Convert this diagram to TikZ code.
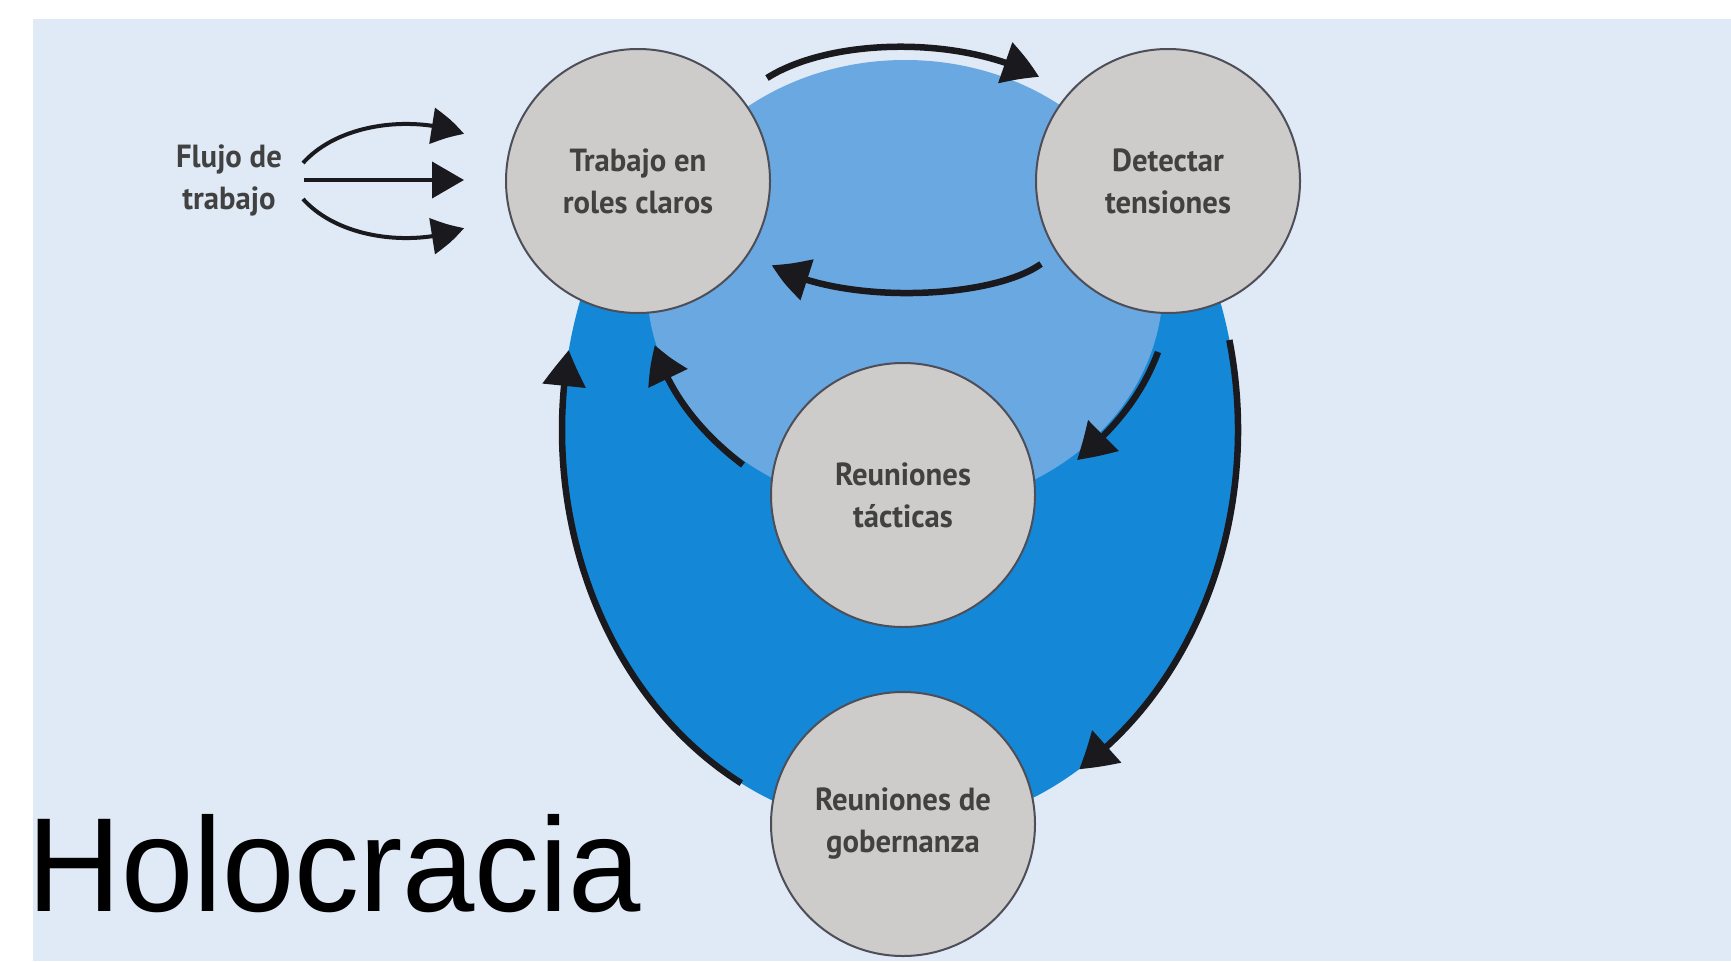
\documentclass[tikz,border=0pt]{standalone}
\usepackage{fontspec}
\newfontfamily\lblfont{PT Sans Bold}[FakeStretch=0.96]
\newfontfamily\holofont{Liberation Sans}[FakeStretch=0.97]
\usetikzlibrary{arrows.meta,bending}
\definecolor{bgc}{HTML}{E0EAF6}
\definecolor{lightb}{HTML}{69A8E0}
\definecolor{darkb}{HTML}{1488D6}
\definecolor{circfill}{HTML}{CDCCCA}
\definecolor{circline}{HTML}{4E4E58}
\definecolor{txtc}{HTML}{414141}
\definecolor{arrc}{HTML}{1A1A1E}
\tikzset{
  stage/.style={circle, minimum size=264pt, inner sep=0pt, fill=circfill, draw=circline, line width=2pt,
    align=center, text=txtc, font=\lblfont\fontsize{32}{42}\selectfont},
  bigarrow/.style={draw=arrc, line width=6.5pt, -{Triangle[length=36pt,width=42pt,bend]}},
  flowarrow/.style={draw=arrc, line width=4pt, -{Triangle[length=32pt,width=36pt,bend]}},
}
\begin{document}
\begin{tikzpicture}[x=1pt,y=-1pt]
\useasboundingbox (0,0) rectangle (1731,961);
\fill[white] (0,0) rectangle (1731,961);
\fill[bgc] (33,19) rectangle (1731,961);
% dark blue outer shape
\begin{scope}
\clip (0,200) rectangle (1731,961);
\fill[darkb] (900,430) ellipse [x radius=338, y radius=400];
\end{scope}
% light blue inner shape
\fill[lightb] (905,285) ellipse [x radius=258, y radius=225];
% stages
\node[stage] (trabajo) at (638,181) {Trabajo en\\roles claros};
\node[stage] (detectar) at (1168,181) {Detectar\\tensiones};
\node[stage] (tacticas) at (903,495) {Reuniones\\tácticas};
\node[stage] (gober) at (903,824) {Reuniones de\\gobernanza};
% flow label
\node[align=center, text=txtc, font=\lblfont\fontsize{32}{42}\selectfont] (flujo) at (229,180) {Flujo de\\trabajo};
\coordinate (f1s) at (303,163);
\coordinate (f1e) at (464,134);
\coordinate (f2s) at (304,180);
\coordinate (f2e) at (464,180);
\coordinate (f3s) at (303,199);
\coordinate (f3e) at (464,228);
\draw[flowarrow] (f1s) .. controls (340,122) and (415,115) .. (f1e);
\draw[flowarrow] (f2s) -- (f2e);
\draw[flowarrow] (f3s) .. controls (340,240) and (415,247) .. (f3e);
% inner cycle arrows
\coordinate (a1s) at (767,78);
\coordinate (a1e) at (1039,77);
\draw[bigarrow] (a1s) .. controls (830,38) and (960,35) .. (a1e);
\coordinate (a2s) at (1041,264);
\coordinate (a2e) at (772,265);
\draw[bigarrow] (a2s) .. controls (990,300) and (840,305) .. (a2e);
\coordinate (a3s) at (1158,352);
\coordinate (a3e) at (1077,460);
\draw[bigarrow] (a3s) .. controls (1140,400) and (1110,432) .. (a3e);
\coordinate (a4s) at (743,465);
\coordinate (a4e) at (655,345);
\draw[bigarrow] (a4s) .. controls (700,432) and (668,392) .. (a4e);
% outer cycle arrows
\coordinate (o1s) at ([shift={(900,430)}]118:338 and 400);
\draw[bigarrow] (o1s) arc[start angle=118, end angle=191.5, x radius=338, y radius=400];
\coordinate (o2s) at ([shift={(900,430)}]-13:338 and 400);
\draw[bigarrow] (o2s) arc[start angle=-13, end angle=58, x radius=338, y radius=400];
% title
\node[anchor=base west, inner sep=0pt, font=\holofont\fontsize{134}{134}\selectfont, text=black] (title) at (27,911) {Holocracia};
\end{tikzpicture}
\end{document}
